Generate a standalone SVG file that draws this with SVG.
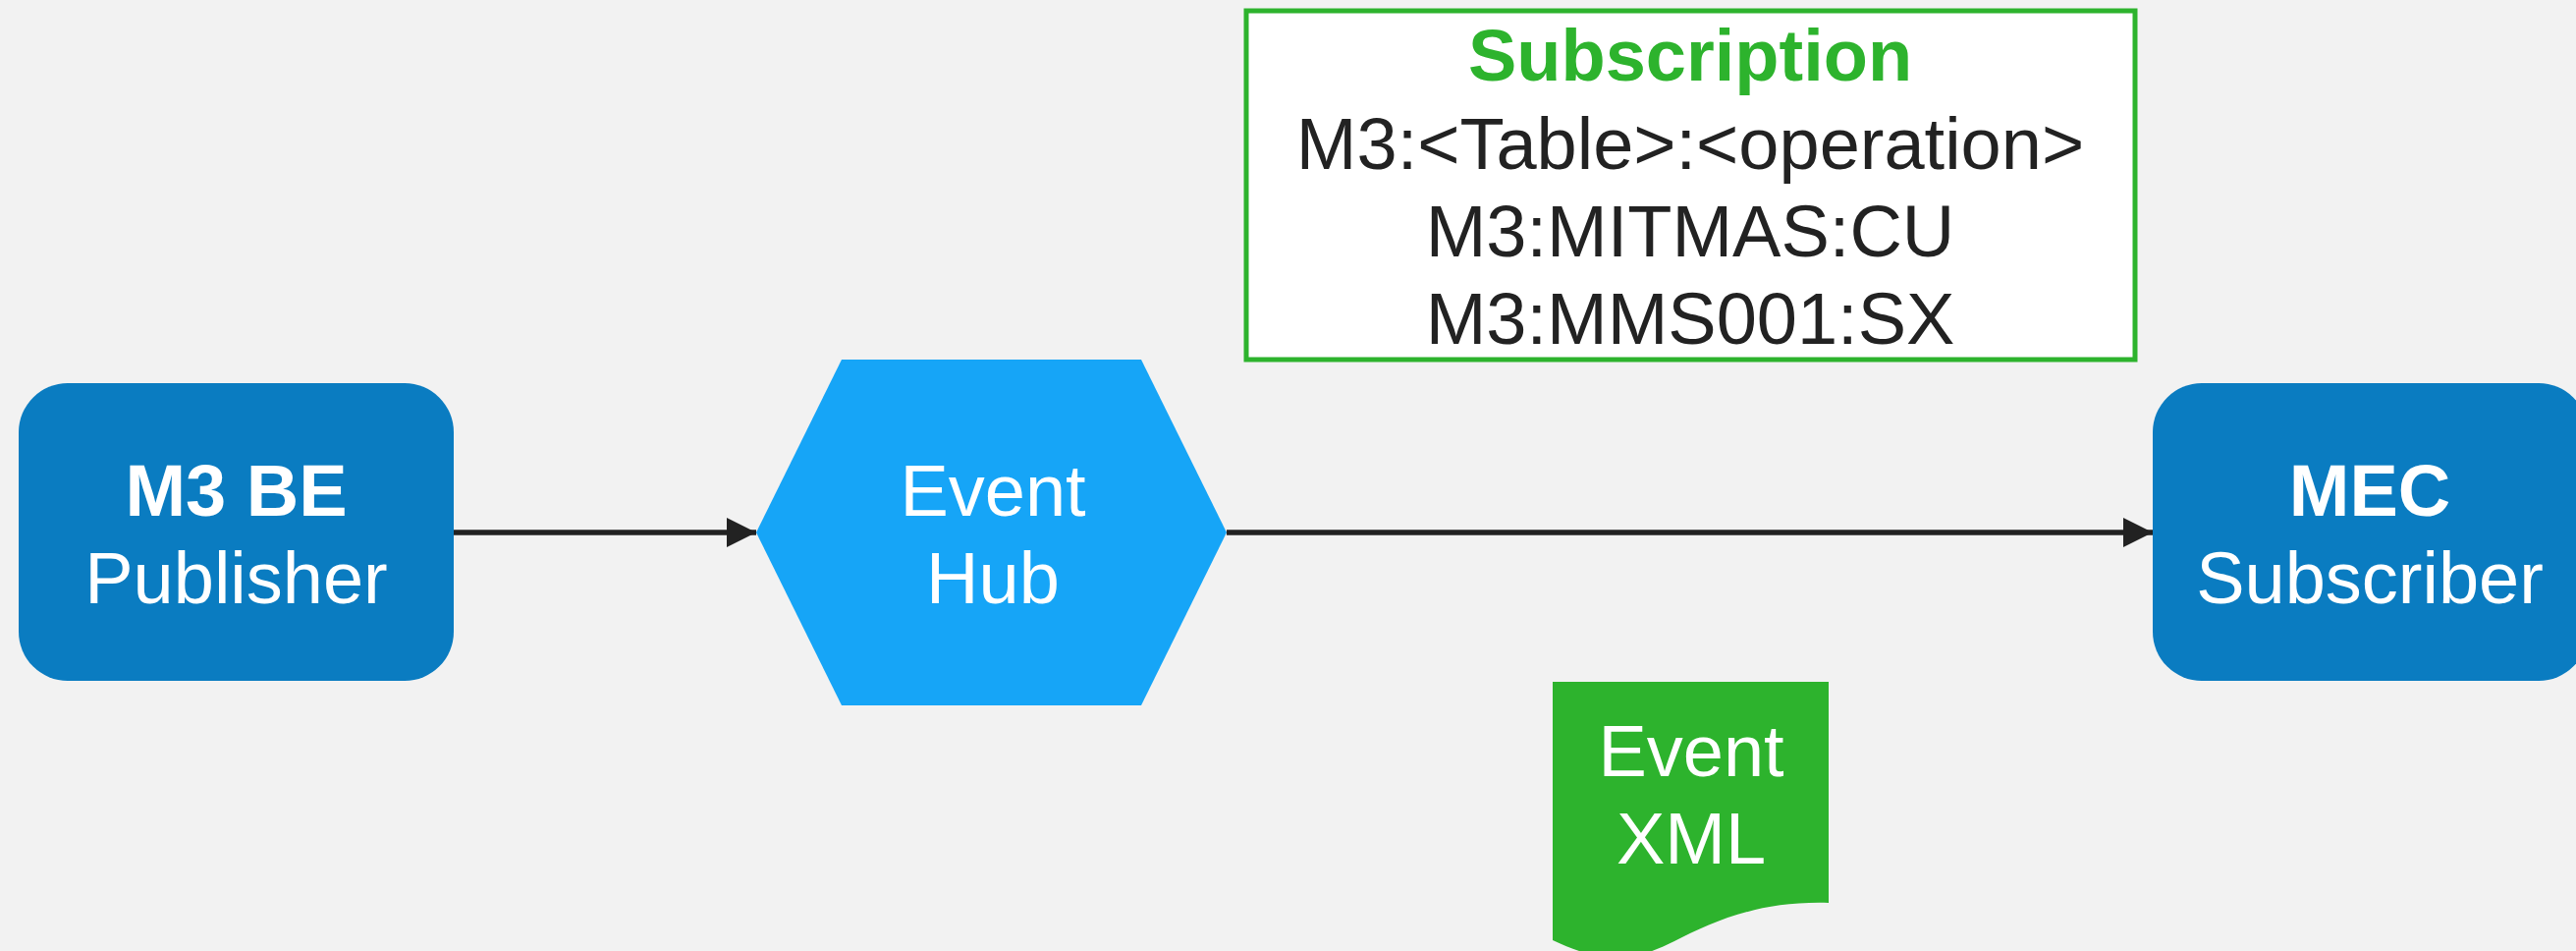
<svg xmlns="http://www.w3.org/2000/svg" width="2623" height="968" viewBox="0 0 2623 968">
  <defs>
    <style>
      .t { font-family: "Liberation Sans", Arial, sans-serif; font-size: 74px; text-anchor: middle; }
      .w { fill: #ffffff; }
      .k { fill: #222222; }
      .b { font-weight: bold; }
      .edge { stroke: #222222; stroke-width: 5.5; fill: none; }
    </style>
    <marker id="arr" markerUnits="userSpaceOnUse" markerWidth="30" markerHeight="30" refX="30" refY="15" orient="auto">
      <path d="M0,0 L30,15 L0,30 Z" fill="#222222"/>
    </marker>
  </defs>
  <rect x="0" y="0" width="2623" height="968" fill="#f2f2f2"/>

  <g id="connectors">
    <line class="edge" x1="462" y1="542" x2="770" y2="542" marker-end="url(#arr)"/>
    <line class="edge" x1="1249" y1="542" x2="2192" y2="542" marker-end="url(#arr)"/>
  </g>

  <g id="publisher">
    <rect x="19" y="390" width="443" height="303" rx="50" ry="50" fill="#0a7cc1"/>
    <text class="t w b" x="240.5" y="525">M3 BE</text>
    <text class="t w" x="240.5" y="614">Publisher</text>
  </g>

  <g id="eventhub">
    <polygon points="770,542 857,366 1162,366 1249,542 1162,718 857,718" fill="#16a5f7"/>
    <text class="t w" x="1011" y="525">Event</text>
    <text class="t w" x="1011" y="614">Hub</text>
  </g>

  <g id="subscriber">
    <rect x="2192" y="390" width="443" height="303" rx="50" ry="50" fill="#0a7cc1"/>
    <text class="t w b" x="2413" y="525">MEC</text>
    <text class="t w" x="2413" y="614">Subscriber</text>
  </g>

  <g id="subscription">
    <rect x="1269" y="11" width="905" height="355" fill="#ffffff" stroke="#2db32d" stroke-width="5"/>
    <text class="t b" x="1721" y="82" fill="#2db32d">Subscription</text>
    <text class="t k" x="1721" y="172">M3:&lt;Table&gt;:&lt;operation&gt;</text>
    <text class="t k" x="1721" y="261">M3:MITMAS:CU</text>
    <text class="t k" x="1721" y="350">M3:MMS001:SX</text>
  </g>

  <g id="eventxml">
    <path d="M1581,694 H1862 V919 C1790,917 1745,938 1705,958 C1668,976 1640,985 1581,957 Z" fill="#2db32d"/>
    <text class="t w" x="1722" y="790">Event</text>
    <text class="t w" x="1722" y="879">XML</text>
  </g>
</svg>
